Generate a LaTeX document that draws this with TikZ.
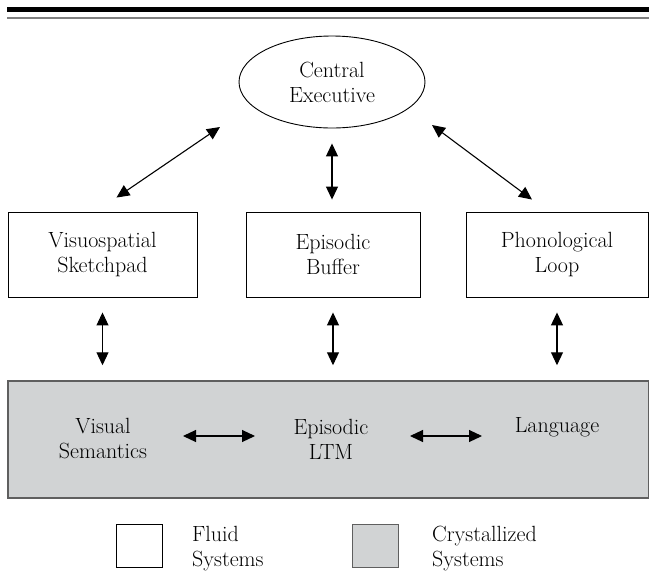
\documentclass[tikz,border=0pt]{standalone}
\usepackage{tikz}
\usetikzlibrary{shapes.geometric, arrows.meta, positioning, calc}
\definecolor{crystgray}{RGB}{209, 211, 212}
\definecolor{bandline}{RGB}{95, 95, 95}

\begin{document}
\begin{tikzpicture}[
  x=1pt, y=-1pt,
  every node/.style={font=\fontsize{22}{25}\selectfont, align=center},
  sysbox/.style={draw=black, line width=0.9pt, minimum height=85pt, inner sep=0pt},
  execnode/.style={ellipse, draw=black, line width=0.9pt, minimum width=186pt, minimum height=92pt, inner sep=0pt},
  legbox/.style={draw=black, line width=0.9pt, minimum width=46pt, minimum height=43pt, inner sep=0pt},
  dbl/.style={{Triangle[length=13pt, width=12pt]}-{Triangle[length=13pt, width=12pt]}, line width=1.1pt}
]
  \useasboundingbox (0,0) rectangle (649,579);

  % rules at the top
  \draw[line width=5.5pt] (7,9.5) -- (649,9.5);
  \draw[gray, line width=1.5pt] (7,17.8) -- (649,17.8);

  % fluid systems
  \node[execnode] (exec) at (332,82)  {Central\\Executive};
  \node[sysbox, minimum width=189pt] (vsk) at (102.5,254.5) {Visuospatial\\Sketchpad};
  \node[sysbox, minimum width=174pt] (buf) at (333,254.5)   {Episodic\\Buffer};
  \node[sysbox, minimum width=182pt] (pho) at (557,254.5)   {Phonological\\Loop};

  % crystallized systems
  \node[draw=bandline, fill=crystgray, line width=1.5pt, minimum width=641pt, minimum height=117pt, inner sep=0pt] (ltm) at (328.5,439.5) {};
  \node[inner sep=0pt] (vis)  at (103,439)  {Visual\\Semantics};
  \node[inner sep=0pt] (epi)  at (331,439)  {Episodic\\LTM};
  \node[inner sep=0pt] (lang) at (557,427)  {Language};

  % connectors
  \draw[dbl] ($(vsk.north)+(14,-14)$) -- ($(exec.center)+(-112,45)$);
  \draw[dbl] ($(pho.north)+(-25,-12)$) -- ($(exec.center)+(100,43)$);
  \draw[dbl, shorten <=15pt, shorten >=12pt] (exec.south) -- (exec.south |- buf.north);
  \foreach \sys in {vsk, buf, pho}
    \draw[dbl, shorten <=15pt, shorten >=15pt] (\sys.south) -- (\sys.south |- ltm.north);
  \draw[dbl] ($(vis.center)+(80,-3)$) -- ($(epi.center)+(-76,-3)$);
  \draw[dbl] ($(epi.center)+(79,-3)$) -- ($(lang.center)+(-75,9)$);

  % legend
  \node[legbox] (fluid) at (139.5,545.5) {};
  \node[legbox, fill=crystgray, draw=bandline] (cryst) at (375,545.5) {};
  \node[anchor=west, align=left, inner sep=0pt] (fluidtxt) at (192,549) {Fluid\\Systems};
  \node[anchor=west, align=left, inner sep=0pt] (crysttxt) at (432,549) {Crystallized\\Systems};
\end{tikzpicture}
\end{document}
